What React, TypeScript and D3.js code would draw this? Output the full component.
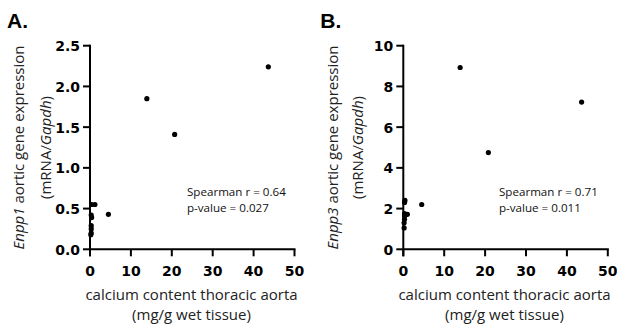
import React from "react";
import * as d3 from "d3";

// Calcium content (mg/g wet tissue) vs. Enpp1 / Enpp3 expression (mRNA/Gapdh)
const enpp1Calcium = [43.6, 13.9, 20.7, 4.5, 1.2, 0.4, 0.3, 0.4, 0.3, 0.3, 0.3, 0.2];
const enpp1Expr = [2.24, 1.85, 1.41, 0.43, 0.55, 0.55, 0.42, 0.39, 0.29, 0.25, 0.2, 0.18];

const enpp3Calcium = [43.6, 13.9, 20.8, 4.5, 1.0, 0.4, 0.3, 0.3, 0.3, 0.2, 0.2, 0.3];
const enpp3Expr = [7.23, 8.93, 4.75, 2.2, 1.72, 2.4, 2.3, 1.64, 1.47, 1.3, 1.05, 1.75];

const xTicks = [0, 10, 20, 30, 40, 50];
const enpp1Ticks = [0, 0.5, 1.0, 1.5, 2.0, 2.5];
const enpp3Ticks = [0, 2, 4, 6, 8, 10];

const BODY_FONT = "'Open Sans', 'Noto Sans', sans-serif";
const TICK_FONT = "'DejaVu Sans', sans-serif";

type PanelProps = {
  left: number;
  letter: string;
  gene: string;
  xs: number[];
  ys: number[];
  yMax: number;
  yTicks: number[];
  yFmt: (v: number) => string;
  stats: string[];
  statsX: number;
  label1X: number;
  label2X: number;
  titleX: number;
};

function Panel(p: PanelProps) {
  const x = d3.scaleLinear().domain([0, 50]).range([p.left, p.left + 204.5]);
  const y = d3.scaleLinear().domain([0, p.yMax]).range([249.3, 45.7]);
  const x0 = x(0);
  const y0 = y(0);
  const midY = (y(0) + y(p.yMax)) / 2;
  return (
    <g>
      <text x={p.left - 83} y={28} fontFamily="'Liberation Sans', Arial, sans-serif" fontWeight="bold" fontSize={21}>
        {p.letter}
      </text>
      {/* axes */}
      <line x1={x0} x2={x(50) + 1} y1={y0} y2={y0} stroke="#000" strokeWidth={2} />
      <line x1={x0} x2={x0} y1={y(p.yMax) - 1} y2={y0 + 7} stroke="#000" strokeWidth={2} />
      {p.yTicks.map((t) => (
        <g key={"y" + t}>
          <line x1={x0 - 7} x2={x0} y1={y(t)} y2={y(t)} stroke="#000" strokeWidth={2} />
          <text
            x={x0 - 10}
            y={y(t) + 5.5}
            textAnchor="end"
            fontFamily={TICK_FONT}
            fontWeight="bold"
            fontSize={14}
          >
            {p.yFmt(t)}
          </text>
        </g>
      ))}
      {xTicks.map((t) => (
        <g key={"x" + t}>
          <line x1={x(t)} x2={x(t)} y1={y0} y2={y0 + 7} stroke="#000" strokeWidth={2} />
          <text
            x={x(t)}
            y={276}
            textAnchor="middle"
            fontFamily={TICK_FONT}
            fontWeight="bold"
            fontSize={14}
          >
            {t}
          </text>
        </g>
      ))}
      {p.xs.map((v, i) => (
        <circle key={i} cx={x(v)} cy={y(p.ys[i])} r={2.6} fill="#000" />
      ))}
      <text fontFamily={BODY_FONT} fontSize={11.6} fill="#111">
        <tspan x={p.statsX} y={196}>{p.stats[0]}</tspan>
        <tspan x={p.statsX} y={212}>{p.stats[1]}</tspan>
      </text>
      {/* y-axis title */}
      <text
        transform={`translate(${p.label1X},${midY}) rotate(-90)`}
        textAnchor="middle"
        dominantBaseline="central"
        fontFamily={BODY_FONT}
        fontSize={15}
        fill="#222"
      >
        <tspan fontStyle="italic">{p.gene}</tspan> aortic gene expression
      </text>
      <text
        transform={`translate(${p.label2X},${midY}) rotate(-90)`}
        textAnchor="middle"
        dominantBaseline="central"
        fontFamily={BODY_FONT}
        fontSize={15}
        fill="#222"
      >
        (mRNA/<tspan fontStyle="italic">Gapdh</tspan>)
      </text>
      {/* x-axis title */}
      <text x={p.titleX} y={300} textAnchor="middle" fontFamily={BODY_FONT} fontSize={15} fill="#222">
        calcium content thoracic aorta
      </text>
      <text x={p.titleX} y={320} textAnchor="middle" fontFamily={BODY_FONT} fontSize={15} fill="#222">
        (mg/g wet tissue)
      </text>
    </g>
  );
}

export default function App() {
  return (
    <svg width={617} height={327} style={{ position: "absolute", left: 0, top: 0, background: "#fff" }}>
      <Panel
        left={90}
        letter="A."
        gene="Enpp1"
        xs={enpp1Calcium}
        ys={enpp1Expr}
        yMax={2.5}
        yTicks={enpp1Ticks}
        yFmt={(v) => v.toFixed(1)}
        stats={["Spearman r = 0.64", "p-value = 0.027"]}
        statsX={187}
        label1X={18}
        label2X={45}
        titleX={191.5}
      />
      <Panel
        left={403.3}
        letter="B."
        gene="Enpp3"
        xs={enpp3Calcium}
        ys={enpp3Expr}
        yMax={10}
        yTicks={enpp3Ticks}
        yFmt={(v) => String(v)}
        stats={["Spearman r = 0.71", "p-value = 0.011"]}
        statsX={499}
        label1X={332}
        label2X={357}
        titleX={504.5}
      />
    </svg>
  );
}
